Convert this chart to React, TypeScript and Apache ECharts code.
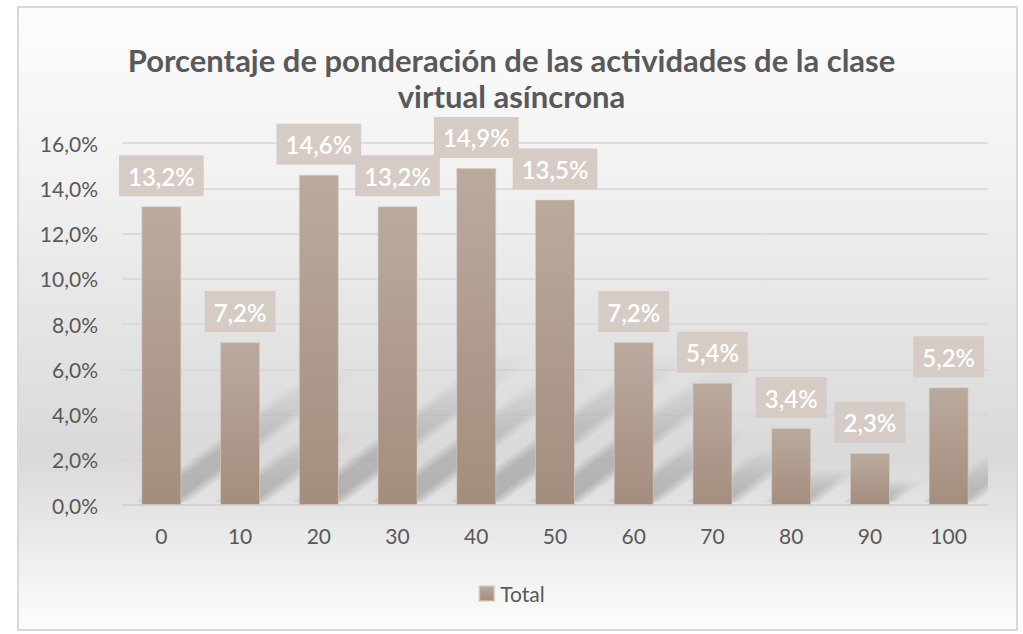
import React, { useEffect, useRef } from "react";
import * as echarts from "echarts";

const categories = ["0", "10", "20", "30", "40", "50", "60", "70", "80", "90", "100"];
const values = [13.2, 7.2, 14.6, 13.2, 14.9, 13.5, 7.2, 5.4, 3.4, 2.3, 5.2];
const seriesName = "Total";
const titleText = "Porcentaje de ponderación de las actividades de la clase\nvirtual asíncrona";

const FONT = "Lato, 'Open Sans', sans-serif";
const fmt = (v: number) => v.toFixed(1).replace(".", ",") + "%";

export default function App() {
  const ref = useRef<HTMLDivElement>(null);
  useEffect(() => {
    if (!ref.current) return;
    const chart = echarts.init(ref.current, null, { renderer: "svg" });
    const barGrad = new echarts.graphic.LinearGradient(0, 0, 0, 1, [
      { offset: 0, color: "#baaa9e" },
      { offset: 1, color: "#a38d7e" },
    ]);
    const shadowRender = (params: any, api: any) => {
      const idx = api.value(0);
      const val = api.value(1);
      const base = api.coord([idx, 0]);
      const top = api.coord([idx, val]);
      const h = base[1] - top[1];
      const half = 20;
      const a = 0.6;
      const b = 0.45;
      const children: any[] = [];
      [-6, -2, 2, 6].forEach((d) => {
        const x0 = base[0] - half - d;
        const x1 = base[0] + half + d;
        const y0 = base[1] - 3;
        children.push({
          type: "polygon",
          shape: {
            points: [
              [x0, y0],
              [x1, y0],
              [x1 + a * h, y0 - b * h],
              [x0 + a * h, y0 - b * h],
            ],
          },
          style: {
            fill: new echarts.graphic.LinearGradient(0, 1, 0, 0, [
              { offset: 0, color: "rgba(0,0,0,0.06)" },
              { offset: 0.5, color: "rgba(0,0,0,0.035)" },
              { offset: 1, color: "rgba(0,0,0,0)" },
            ]),
          },
        });
      });
      return { type: "group", children };
    };
    chart.setOption({
      animation: false,
      textStyle: { fontFamily: FONT },
      graphic: [
        {
          type: "rect",
          z: -100,
          silent: true,
          shape: { x: 18, y: 7, width: 999, height: 623 },
          style: {
            fill: new echarts.graphic.LinearGradient(0, 0, 0, 1, [
              { offset: 0, color: "#fdfdfd" },
              { offset: 0.3, color: "#f0f0f0" },
              { offset: 0.72, color: "#d9d9d9" },
              { offset: 1, color: "#fdfdfd" },
            ]),
            stroke: "#d9d9d9",
            lineWidth: 2,
          },
        },
      ],
      title: {
        text: titleText,
        left: "center",
        top: 37,
        textStyle: {
          fontFamily: FONT,
          fontSize: 31,
          fontWeight: "bold",
          color: "#595959",
          lineHeight: 36,
        },
      },
      legend: {
        data: [seriesName],
        left: "center",
        top: 578,
        itemWidth: 15,
        itemHeight: 15,
        itemGap: 6,
        icon: "rect",
        textStyle: { fontFamily: FONT, fontSize: 21, color: "#595959", padding: [0, 0, 0, 1] },
      },
      grid: { left: 122, right: 35, top: 143, bottom: 129, containLabel: false },
      xAxis: {
        type: "category",
        data: categories,
        axisLine: { lineStyle: { color: "#d0d0d0", width: 1.5 } },
        axisTick: { show: false },
        axisLabel: { color: "#595959", fontSize: 21, margin: 20, fontFamily: FONT },
      },
      yAxis: {
        type: "value",
        min: 0,
        max: 16,
        interval: 2,
        axisLine: { show: false },
        axisTick: { show: false },
        splitLine: { lineStyle: { color: "#d6d6d6", width: 1.5 } },
        axisLabel: {
          color: "#595959",
          fontSize: 21,
          margin: 24,
          fontFamily: FONT,
          formatter: (v: number) => fmt(v),
        },
      },
      series: [
        {
          type: "custom",
          name: "shadow",
          clip: true,
          silent: true,
          z: 1,
          renderItem: shadowRender,
          data: values.map((v, i) => [i, v]),
          tooltip: { show: false },
        },
        {
          type: "bar",
          name: seriesName,
          data: values,
          barWidth: 40,
          z: 3,
          itemStyle: { color: barGrad, borderColor: "rgba(220,205,195,0.6)", borderWidth: 1 },
          label: {
            show: true,
            position: "top",
            distance: 10,
            formatter: (p: any) => fmt(p.value),
            color: "#ffffff",
            fontSize: 24,
            lineHeight: 24,
            fontWeight: 600,
            fontFamily: FONT,
            backgroundColor: "#d6ccc6",
            padding: [9, 9, 8, 9],
          },
        },
      ],
    });
    return () => chart.dispose();
  }, []);
  return (
    <div
      ref={ref}
      style={{ position: "absolute", left: 0, top: 0, width: 1023, height: 634 }}
    />
  );
}
